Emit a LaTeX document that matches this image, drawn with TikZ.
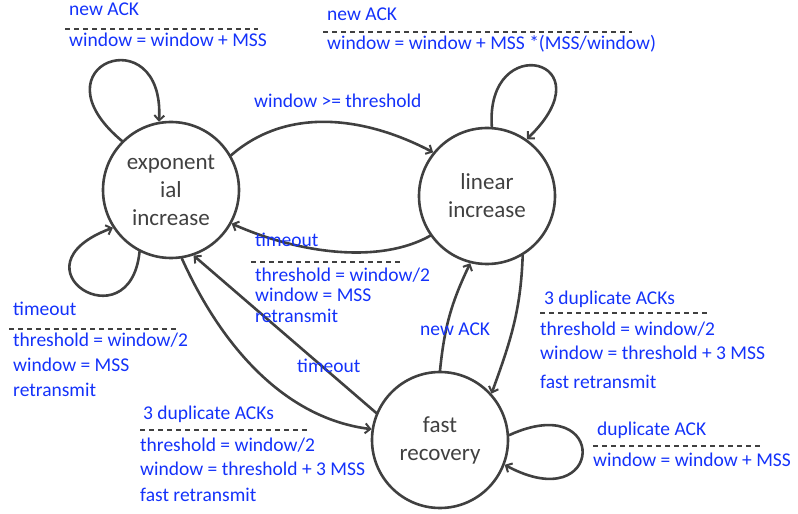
\documentclass[tikz,border=0pt]{standalone}
\usepackage{fontspec}
\setmainfont{Carlito}
\usetikzlibrary{positioning,arrows.meta,shapes}
\definecolor{stategray}{RGB}{64,64,64}
\definecolor{actblue}{RGB}{20,50,250}

\begin{document}
\begin{tikzpicture}[x=1pt,y=1pt]
    \tikzstyle{state}=[draw=stategray,line width=2.6pt,circle,minimum size=136,inner sep=0,align=center,text=stategray,font=\fontsize{23}{28}\selectfont]
    \tikzstyle{note}=[text=actblue,inner sep=0,anchor=base west,font=\fontsize{19.5}{22}\selectfont]
    \tikzstyle{rule}=[draw=stategray,line width=1.8pt,dash pattern=on 5pt off 4pt]
    \tikzstyle{trans}=[draw=stategray,line width=2.6pt,line cap=round,-{Straight Barb[length=5pt,width=10pt,line width=2pt]}]
    {
        \useasboundingbox (0,0) rectangle (798,514);

        \node[state] (expo) at (171,324) {exponent\\ial\\increase};
        \node[state] (lin) at (487,318) {linear\\increase};
        \node[state] (fast) at (440,74) {fast\\recovery};

        % self loops
        \draw[trans] (expo.135) .. controls (30,450) and (165,498) .. (expo.100);
        \draw[trans] (expo.243) .. controls (130,169) and (7,247) .. (expo.213);
        \draw[trans] (lin.86) .. controls (485,485) and (610,455) .. (lin.55);
        \draw[trans] (fast.4) .. controls (610,125) and (605,-5) .. (fast.-21);

        % between states
        \draw[trans] (expo.30) .. controls (290,410) and (370,395) .. (lin.141);
        \draw[trans] (lin.215) .. controls (380,250) and (300,260) .. (expo.-29);
        \draw[trans] (expo.-81) .. controls (225,160) and (290,95) .. (fast.171);
        \path
            (fast.157) edge[trans] (expo.-71)
            (fast.90) edge[trans,bend left=10] (lin.-104)
            (lin.-59) edge[trans,out=-92,in=70] (fast.42);

        % labels
        \node[note] (expAckIn) at (69,498) {new ACK};
        \draw[rule] (65,485) -- (258,485);
        \node[note] (expAckOut) at (69,467) {window = window + MSS};

        \node[note] (linAckIn) at (327,493) {new ACK};
        \draw[rule] (323,482) -- (632,482);
        \node[note] (linAckOut) at (327,464) {window = window + MSS *(MSS/window)};

        \node[note] (toLin) at (254,406) {window >= threshold};

        \node[note] (linToIn) at (255,267) {timeout};
        \draw[rule] (251,252) -- (403,252);
        \node[note] (linToOut1) at (255,232) {threshold = window/2};
        \node[note] (linToOut2) at (255,212) {window = MSS};
        \node[note] (linToOut3) at (255,191) {retransmit};

        \node[note] (expToIn) at (13,198) {timeout};
        \draw[rule] (9,185) -- (178,185);
        \node[note] (expToOut1) at (13,167) {threshold = window/2};
        \node[note] (expToOut2) at (13,142) {window = MSS};
        \node[note] (expToOut3) at (13,117) {retransmit};

        \node[note] (fastTo) at (297,141) {timeout};

        \node[note] (expDupIn) at (143,94) {3 duplicate ACKs};
        \draw[rule] (140,84) -- (309,84);
        \node[note] (expDupOut1) at (140,62) {threshold = window/2};
        \node[note] (expDupOut2) at (140,38) {window = threshold + 3 MSS};
        \node[note] (expDupOut3) at (140,12) {fast retransmit};

        \node[note] (fastAck) at (420,178) {new ACK};

        \node[note] (linDupIn) at (544,209) {3 duplicate ACKs};
        \draw[rule] (540,201) -- (710,201);
        \node[note] (linDupOut1) at (540,178) {threshold = window/2};
        \node[note] (linDupOut2) at (540,154) {window = threshold + 3 MSS};
        \node[note] (linDupOut3) at (540,125) {fast retransmit};

        \node[note] (fastDupIn) at (597,78) {duplicate ACK};
        \draw[rule] (593,68) -- (762,68);
        \node[note] (fastDupOut) at (593,47) {window = window + MSS};
    }
\end{tikzpicture}
\end{document}
